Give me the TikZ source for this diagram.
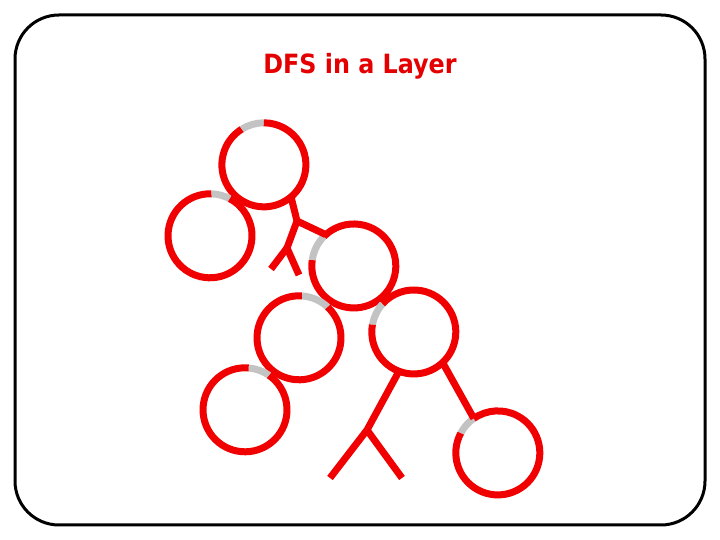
\documentclass[tikz,border=0pt]{standalone}
\usepackage{fontspec}
\setmainfont{DejaVu Sans}
\newfontfamily\titlefont{DejaVu Sans Condensed}
\definecolor{arcred}{RGB}{240,0,0}
\definecolor{arcgray}{RGB}{195,195,195}
\definecolor{titlered}{RGB}{228,0,0}
\begin{document}
\begin{tikzpicture}[x=1pt,y=1pt,
  ring/.style={circle,inner sep=0pt,minimum size=84pt,draw=none},
  redline/.style={draw=arcred,line width=7pt},
  grayline/.style={draw=arcgray,line width=7pt},
  edge/.style={draw=arcred,line width=7pt}]
\useasboundingbox (0,0) rectangle (720,540);
\draw[line width=3pt,rounded corners=44pt] (15,15) rectangle (705,525);
\node[font=\titlefont\bfseries\fontsize{26.5}{30}\selectfont,text=titlered] (title) at (360,474) {DFS in a Layer};
% rings
\node[ring] (c1) at (264,375) {};
\node[ring] (c2) at (210,304) {};
\node[ring] (c3) at (354,274) {};
\node[ring] (c4) at (299,202) {};
\node[ring] (c5) at (245,130) {};
\node[ring] (c6) at (414,208) {};
\node[ring] (c7) at (498,87) {};
% arcs: gray part then red part
\newcommand{\ringarcs}[3]{%
  \draw[grayline] (#1.#2) arc[start angle=#2,end angle=#3,radius=42pt];
  \draw[redline] (#1.#3) arc[start angle=#3,end angle=#2+360,radius=42pt];}
\ringarcs{c1}{90}{122}
\ringarcs{c2}{62}{88}
\ringarcs{c3}{135}{172}
\ringarcs{c4}{47}{86}
\ringarcs{c5}{55}{85}
\ringarcs{c6}{138}{170}
\ringarcs{c7}{125}{152}
% connectors
\coordinate (j1) at (297,319);
\coordinate (j2) at (287,292);
\coordinate (l1) at (271,271);
\coordinate (r1) at (299,265);
\coordinate (j3) at (367,110);
\coordinate (l2) at (330,62);
\coordinate (r2) at (402,62);
\draw[edge] (c1.-50) -- (j1);
\draw[edge] (j1) -- (c3.132);
\draw[edge] (j1) -- (j2);
\draw[edge] (j2) -- (l1);
\draw[edge] (j2) -- (r1);
\draw[edge] (c6.-111) -- (j3);
\draw[edge] (j3) -- (l2);
\draw[edge] (j3) -- (r2);
\draw[edge] (c6.-47) -- (c7.125);
\end{tikzpicture}
\end{document}
